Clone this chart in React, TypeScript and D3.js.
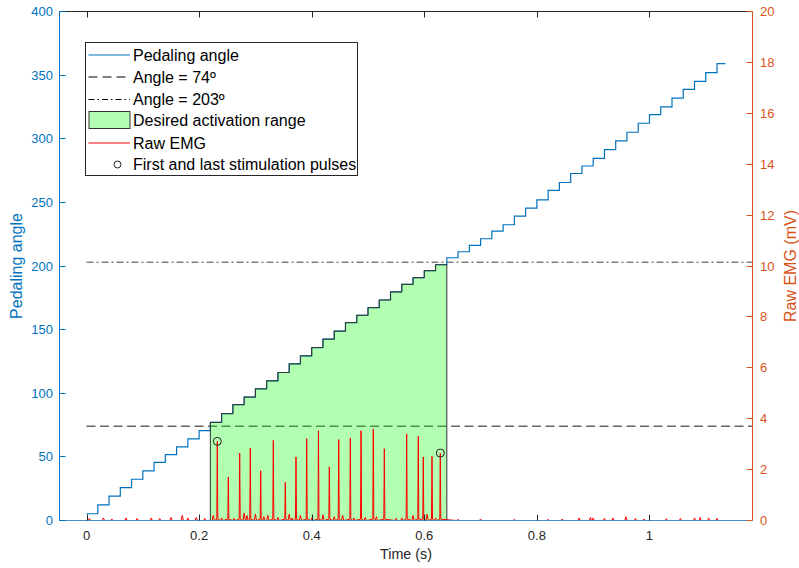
import React, { useRef, useEffect } from 'react'
import * as d3 from 'd3'

// pedaling angle staircase (deg), one step every 20 ms
const stepTimes = [0, 0.02, 0.04, 0.06, 0.08, 0.1, 0.12, 0.14, 0.16, 0.18, 0.2, 0.22, 0.24, 0.26, 0.28, 0.3, 0.32, 0.34, 0.36, 0.38, 0.4, 0.42, 0.44, 0.46, 0.48, 0.5, 0.52, 0.54, 0.56, 0.58, 0.6, 0.62, 0.64, 0.66, 0.68, 0.7, 0.72, 0.74, 0.76, 0.78, 0.8, 0.82, 0.84, 0.86, 0.88, 0.9, 0.92, 0.94, 0.96, 0.98, 1.0, 1.02, 1.04, 1.06, 1.08, 1.1, 1.12]
const stepAngles = [5.3, 12.3, 19.1, 25.9, 32.4, 39.0, 45.7, 51.8, 57.8, 64.1, 70.6, 77.1, 84.0, 91.0, 97.0, 103.5, 109.8, 116.3, 123.1, 129.4, 135.9, 142.5, 148.8, 155.5, 161.3, 167.3, 173.3, 179.6, 185.6, 190.8, 196.3, 201.0, 206.5, 211.2, 216.2, 221.4, 227.4, 232.4, 239.2, 245.5, 252.0, 259.4, 265.6, 272.7, 278.6, 284.5, 291.5, 298.3, 305.1, 312.2, 319.0, 325.0, 332.0, 338.8, 345.1, 351.9, 359.0]
const endTime = 1.135

const angleLow = 74
const angleHigh = 203

// raw EMG (mV)
const spikeTimes = [0.2323, 0.2519, 0.2721, 0.2909, 0.3094, 0.3318, 0.3531, 0.3721, 0.3911, 0.412, 0.4313, 0.448, 0.4686, 0.4876, 0.5094, 0.529, 0.5687, 0.5893, 0.5982, 0.6137, 0.6284]
const spikeAmps = [3.11, 1.71, 2.65, 2.85, 1.96, 3.15, 1.5, 2.5, 3.22, 3.53, 2.11, 3.18, 3.24, 3.53, 3.6, 2.82, 3.4, 3.31, 2.5, 2.52, 2.65]
const noiseTimes = [0.005, 0.03, 0.045, 0.07, 0.09, 0.115, 0.13, 0.15, 0.17, 0.18, 0.195, 0.21, 0.225, 0.24, 0.262, 0.28, 0.285, 0.3, 0.315, 0.322, 0.34, 0.36, 0.365, 0.38, 0.4, 0.42, 0.44, 0.455, 0.475, 0.495, 0.515, 0.55, 0.56, 0.58, 0.605, 0.62, 0.66, 0.7, 0.76, 0.82, 0.845, 0.875, 0.895, 0.9, 0.92, 0.935, 0.958, 0.975, 0.99, 1.03, 1.055, 1.08, 1.09, 1.105, 1.12]
const noiseAmps = [0.08, 0.1, 0.06, 0.1, 0.08, 0.1, 0.08, 0.12, 0.2, 0.1, 0.12, 0.08, 0.2, 0.1, 0.08, 0.3, 0.2, 0.25, 0.15, 0.2, 0.12, 0.25, 0.1, 0.2, 0.1, 0.22, 0.15, 0.2, 0.1, 0.12, 0.15, 0.08, 0.1, 0.2, 0.25, 0.1, 0.05, 0.06, 0.05, 0.05, 0.06, 0.1, 0.12, 0.1, 0.08, 0.1, 0.15, 0.08, 0.06, 0.07, 0.08, 0.1, 0.12, 0.1, 0.08]

// first and last stimulation pulses
const pulseTimes = [0.2323, 0.6284]
const pulseAmps = [3.11, 2.65]

const xTicks = [0, 0.2, 0.4, 0.6, 0.8, 1]
const angleTicks = [0, 50, 100, 150, 200, 250, 300, 350, 400]
const emgTicks = [0, 2, 4, 6, 8, 10, 12, 14, 16, 18, 20]

const BLUE = '#0072BD'
const ORANGE = '#D95319'
const DARK = '#262626'
const FONT = '"Liberation Sans", Arial, Helvetica, sans-serif'

export default function App() {
  const ref = useRef<SVGSVGElement>(null)

  useEffect(() => {
    const svg = d3.select(ref.current)
    svg.selectAll('*').remove()

    const left = 59.5, right = 752.5, top = 11.5, bottom = 520.5
    const x = d3.scaleLinear().domain([-0.048, 1.183]).range([left, right])
    const yL = d3.scaleLinear().domain([0, 400]).range([bottom, top])
    const yR = d3.scaleLinear().domain([0, 20]).range([bottom, top])

    svg.append('defs').append('clipPath').attr('id', 'plotclip')
      .append('rect').attr('x', left).attr('y', top).attr('width', right - left).attr('height', bottom - top)

    const plot = svg.append('g').attr('clip-path', 'url(#plotclip)')

    // threshold lines
    plot.append('line')
      .attr('x1', x(0)).attr('x2', right).attr('y1', yL(angleLow)).attr('y2', yL(angleLow))
      .attr('stroke', '#000').attr('stroke-width', 1.5).attr('stroke-opacity', 0.6)
      .attr('stroke-dasharray', '9,4.5')
    plot.append('line')
      .attr('x1', x(0)).attr('x2', right).attr('y1', yL(angleHigh)).attr('y2', yL(angleHigh))
      .attr('stroke', '#000').attr('stroke-width', 1).attr('stroke-opacity', 0.75)
      .attr('stroke-dasharray', '7,3,2,3')

    // pedaling angle
    const angleData = stepTimes.map((t, i) => ({ t, v: stepAngles[i] }))
    angleData.push({ t: endTime, v: stepAngles[stepAngles.length - 1] })
    const stair = d3.line<{ t: number; v: number }>()
      .x(d => x(d.t)).y(d => yL(d.v)).curve(d3.curveStepAfter)
    plot.append('path').attr('d', stair(angleData))
      .attr('fill', 'none').attr('stroke', BLUE).attr('stroke-width', 1.2)

    // desired activation range patch
    const iStart = stepAngles.findIndex(v => v >= angleLow)
    const iEnd = stepAngles.findIndex(v => v > angleHigh)
    const patchData = angleData.slice(iStart, iEnd)
    patchData.push({ t: stepTimes[iEnd], v: stepAngles[iEnd - 1] })
    const patchArea = d3.area<{ t: number; v: number }>()
      .x(d => x(d.t)).y0(yL(0)).y1(d => yL(d.v)).curve(d3.curveStepAfter)
    plot.append('path').attr('d', patchArea(patchData))
      .attr('fill', '#00ff00').attr('fill-opacity', 0.3)
      .attr('stroke', '#333').attr('stroke-width', 1)

    // raw EMG
    const emg: { t: number; v: number }[] = [{ t: 0, v: 0 }, { t: endTime, v: 0 }]
    noiseTimes.forEach((t, i) => {
      emg.push({ t: t - 0.002, v: 0 }, { t, v: noiseAmps[i] }, { t: t + 0.002, v: 0 })
    })
    spikeTimes.forEach((t, i) => {
      emg.push({ t: t - 0.0009, v: 0.05 }, { t, v: spikeAmps[i] }, { t: t + 0.0009, v: 0.05 })
    })
    emg.sort((a, b) => a.t - b.t)
    const emgLine = d3.line<{ t: number; v: number }>().x(d => x(d.t)).y(d => yR(d.v))
    plot.append('path').attr('d', emgLine(emg))
      .attr('fill', 'none').attr('stroke', '#ff0000').attr('stroke-width', 1)

    plot.selectAll('circle.pulse').data(pulseTimes).join('circle')
      .attr('class', 'pulse')
      .attr('cx', d => x(d)).attr('cy', (d, i) => yR(pulseAmps[i])).attr('r', 4)
      .attr('fill', 'none').attr('stroke', '#222').attr('stroke-width', 1)

    // axes frame
    svg.append('line').attr('x1', left).attr('x2', right).attr('y1', top).attr('y2', top)
      .attr('stroke', DARK).attr('stroke-width', 1)
    svg.append('line').attr('x1', left).attr('x2', right).attr('y1', bottom).attr('y2', bottom)
      .attr('stroke', '#4a8cc4').attr('stroke-width', 1)
    svg.append('line').attr('x1', left).attr('x2', left).attr('y1', top).attr('y2', bottom)
      .attr('stroke', BLUE).attr('stroke-width', 1)
    svg.append('line').attr('x1', right).attr('x2', right).attr('y1', top).attr('y2', bottom)
      .attr('stroke', ORANGE).attr('stroke-width', 1)

    // x ticks
    const xt = svg.append('g')
    xTicks.forEach(t => {
      const px = Math.round(x(t)) + 0.5
      xt.append('line').attr('x1', px).attr('x2', px).attr('y1', bottom).attr('y2', bottom - 6)
        .attr('stroke', DARK)
      xt.append('line').attr('x1', px).attr('x2', px).attr('y1', top).attr('y2', top + 6)
        .attr('stroke', DARK)
      xt.append('text').attr('x', x(t)).attr('y', 540).attr('text-anchor', 'middle')
        .attr('font-family', FONT).attr('font-size', 13).attr('fill', DARK)
        .text(d3.format('~g')(t))
    })

    // left ticks
    angleTicks.forEach(v => {
      const py = Math.round(yL(v) - 0.5) + 0.5
      svg.append('line').attr('x1', left).attr('x2', left + 6).attr('y1', py).attr('y2', py)
        .attr('stroke', BLUE)
      svg.append('text').attr('x', 53).attr('y', yL(v) + 4.5).attr('text-anchor', 'end')
        .attr('font-family', FONT).attr('font-size', 13).attr('fill', BLUE).text(v)
    })

    // right ticks
    emgTicks.forEach(v => {
      const py = Math.round(yR(v) - 0.5) + 0.5
      svg.append('line').attr('x1', right).attr('x2', right - 6).attr('y1', py).attr('y2', py)
        .attr('stroke', ORANGE)
      svg.append('text').attr('x', 760).attr('y', yR(v) + 4.5).attr('text-anchor', 'start')
        .attr('font-family', FONT).attr('font-size', 13).attr('fill', ORANGE).text(v)
    })

    // axis labels
    svg.append('text').attr('x', (left + right) / 2).attr('y', 559).attr('text-anchor', 'middle')
      .attr('font-family', FONT).attr('font-size', 14.3).attr('fill', DARK).text('Time (s)')
    svg.append('text').attr('transform', `translate(22,${(top + bottom) / 2}) rotate(-90)`)
      .attr('text-anchor', 'middle')
      .attr('font-family', FONT).attr('font-size', 16).attr('fill', BLUE).text('Pedaling angle')
    svg.append('text').attr('transform', `translate(796,${(top + bottom) / 2}) rotate(-90)`)
      .attr('text-anchor', 'middle')
      .attr('font-family', FONT).attr('font-size', 16).attr('fill', ORANGE).text('Raw EMG (mV)')

    // legend
    const lg = svg.append('g')
    lg.append('rect').attr('x', 85.5).attr('y', 42.5).attr('width', 272).attr('height', 133)
      .attr('fill', '#fff').attr('stroke', DARK).attr('stroke-width', 1)
    const rows = [55, 77, 99.5, 120.5, 143, 164.5]
    const labels = ['Pedaling angle', 'Angle = 74º', 'Angle = 203º', 'Desired activation range', 'Raw EMG', 'First and last stimulation pulses']
    const lx1 = 88.5, lx2 = 130
    lg.append('line').attr('x1', lx1).attr('x2', lx2).attr('y1', rows[0]).attr('y2', rows[0])
      .attr('stroke', BLUE).attr('stroke-width', 1)
    lg.append('line').attr('x1', lx1).attr('x2', lx2).attr('y1', rows[1]).attr('y2', rows[1])
      .attr('stroke', '#000').attr('stroke-width', 1).attr('stroke-dasharray', '9,5')
    lg.append('line').attr('x1', lx1).attr('x2', lx2).attr('y1', rows[2]).attr('y2', rows[2])
      .attr('stroke', '#000').attr('stroke-width', 1).attr('stroke-dasharray', '6,3,1.5,3')
    lg.append('rect').attr('x', lx1 + 0.5).attr('y', 111.5).attr('width', lx2 - lx1 - 0.5).attr('height', 17)
      .attr('fill', '#00ff00').attr('fill-opacity', 0.3).attr('stroke', '#333').attr('stroke-width', 1)
    lg.append('line').attr('x1', lx1).attr('x2', lx2).attr('y1', rows[4]).attr('y2', rows[4])
      .attr('stroke', '#ff0000').attr('stroke-width', 1)
    lg.append('circle').attr('cx', 117.5).attr('cy', rows[5]).attr('r', 3.5)
      .attr('fill', 'none').attr('stroke', '#222').attr('stroke-width', 1)
    labels.forEach((s, i) => {
      lg.append('text').attr('x', 133).attr('y', rows[i] + 5.5)
        .attr('font-family', FONT).attr('font-size', 16).attr('fill', '#000').text(s)
    })
  }, [])

  return (
    <svg ref={ref} width={799} height={568}
      style={{ position: 'absolute', left: 0, top: 0, background: '#fff' }} />
  )
}
